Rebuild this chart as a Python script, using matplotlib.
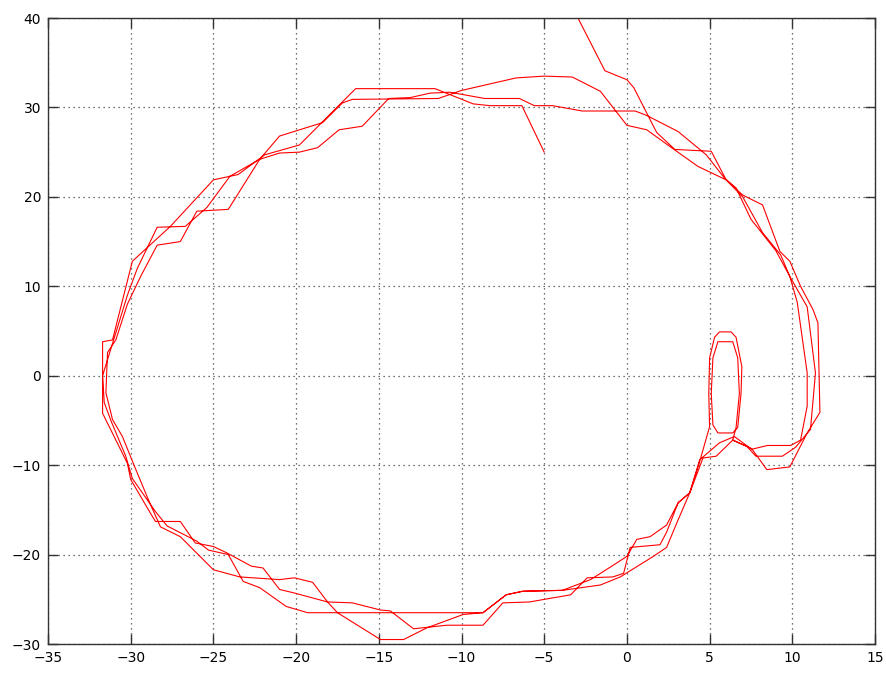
import matplotlib
matplotlib.use("Agg")
import matplotlib.pyplot as plt
import numpy as np

# Trajectory pieces (x, y), in path order
loop1 = [(-5.0, 25.0), (-6.35, 30.2), (-8.3, 30.2), (-9.3, 30.4), (-11.6, 32.1), (-16.4, 32.1),
         (-19.8, 25.8), (-21.9, 24.7), (-23.5, 22.5), (-25.0, 21.9), (-26.0, 19.9), (-27.6, 16.7),
         (-29.9, 12.8), (-31.1, 4.0), (-31.7, 3.8), (-31.7, -2.7), (-31.7, -4.2), (-30.2, -9.8),
         (-30.0, -11.6), (-28.8, -15.4), (-28.5, -16.3), (-27.0, -16.3), (-26.1, -18.7), (-25.0, -19.1),
         (-24.2, -19.8), (-22.7, -21.3), (-22.0, -21.5), (-21.0, -23.9), (-20.1, -24.3), (-18.1, -25.3),
         (-17.5, -26.5), (-14.9, -29.5), (-13.5, -29.5), (-12.1, -28.2), (-9.9, -26.7), (-8.7, -26.5),
         (-7.3, -24.5), (-6.3, -24.1), (-3.9, -24.0), (-2.2, -22.8), (-1.0, -21.4), (0.0, -20.2),
         (0.6, -18.3), (1.4, -18.0), (2.4, -16.7), (3.1, -14.2), (3.8, -13.1), (4.4, -9.6), (5.0, -5.7)]
small1 = [(4.95, -2.0), (5.0, 2.0), (5.3, 4.3), (5.6, 4.9), (6.3, 4.9), (6.6, 4.3), (6.95, 1.0),
          (6.9, -2.0), (6.7, -5.8), (6.4, -6.4), (5.5, -6.4), (5.2, -5.5), (5.1, -2.0), (5.2, 2.0),
          (5.5, 3.8), (6.4, 3.8), (6.7, 2.0), (6.8, -2.0), (6.6, -5.8), (6.4, -7.2)]
right1 = [(7.25, -7.9), (7.6, -8.2), (8.5, -7.8), (9.9, -7.8), (10.5, -7.2), (10.9, -3.4), (10.9, 0.3),
          (10.3, 8.2), (9.85, 11.1), (9.3, 13.5), (8.2, 16.0), (7.0, 20.0), (6.0, 21.9), (4.3, 23.4),
          (2.7, 25.5), (1.2, 27.5), (0.0, 28.0), (-1.6, 31.8), (-3.3, 33.4), (-5.0, 33.5), (-6.7, 33.3),
          (-10.0, 31.9), (-11.4, 31.0), (-16.6, 30.9), (-17.2, 30.5)]
loop2 = [(-18.4, 28.3), (-21.0, 26.8), (-22.2, 24.2), (-24.1, 18.6), (-26.0, 18.4), (-27.0, 15.0),
         (-28.4, 14.6), (-29.4, 11.1), (-30.2, 8.0), (-30.9, 4.0), (-31.4, 2.6), (-31.5, -1.9),
         (-31.1, -4.9), (-30.5, -6.8), (-29.8, -10.0), (-28.9, -14.0), (-28.2, -16.9), (-27.0, -18.0),
         (-25.6, -20.6), (-25.0, -21.7), (-23.4, -22.5), (-21.0, -22.8), (-20.1, -22.6), (-19.0, -23.1),
         (-18.1, -25.3), (-16.6, -25.4), (-14.9, -26.2), (-14.3, -26.3), (-12.9, -28.3), (-10.9, -27.9),
         (-8.7, -27.9), (-7.5, -25.4), (-5.9, -25.3), (-3.4, -24.5), (-2.4, -22.6), (-0.85, -22.5),
         (-0.2, -22.1), (0.2, -19.2), (2.0, -18.9), (2.4, -17.5), (3.1, -14.2), (3.8, -13.1),
         (4.6, -9.2), (5.4, -9.0), (6.4, -7.2)]
right2 = [(7.25, -7.9), (7.8, -9.0), (9.4, -9.0), (10.2, -8.0), (11.1, -6.0), (11.4, 0.3), (10.9, 7.7),
          (9.85, 11.1), (9.0, 14.0), (7.5, 17.5), (6.6, 21.0), (5.9, 22.1), (4.8, 24.7), (3.1, 27.3),
          (1.2, 29.1), (0.5, 29.6), (-2.7, 29.6), (-4.5, 30.2), (-5.6, 30.2), (-6.5, 31.0), (-8.6, 31.0),
          (-10.7, 31.7), (-11.9, 31.6), (-13.1, 31.1), (-14.4, 31.0), (-16.0, 27.9)]
loop3 = [(-17.4, 27.5), (-18.7, 25.5), (-19.8, 25.0), (-21.0, 24.9), (-22.2, 24.2), (-24.0, 22.3),
         (-25.4, 18.8), (-26.7, 16.7), (-28.4, 16.6), (-29.6, 12.0), (-30.2, 9.0), (-31.2, 3.0),
         (-31.7, 0.0), (-31.6, -3.0), (-31.2, -5.0), (-30.3, -9.0), (-29.9, -11.5), (-28.5, -15.2),
         (-27.8, -16.8), (-26.0, -18.5), (-25.3, -19.5), (-24.1, -20.0), (-23.2, -23.0), (-22.2, -23.7),
         (-20.6, -25.8), (-19.3, -26.5), (-14.9, -26.5), (-8.7, -26.5), (-7.3, -24.5), (-6.3, -24.1),
         (-3.9, -24.0), (-1.6, -23.4), (-0.4, -22.5), (1.6, -20.2), (2.4, -19.2), (3.1, -16.1),
         (3.8, -13.1), (4.4, -9.4), (5.6, -7.5), (6.5, -6.8)]
right3 = [(7.6, -8.3), (8.46, -10.5), (9.85, -10.2), (10.9, -6.4), (11.67, -4.1), (11.55, 5.9),
          (11.25, 7.4), (10.5, 10.0), (9.85, 12.8), (9.25, 13.9), (8.2, 19.1), (7.0, 20.2), (6.0, 21.9),
          (5.1, 25.1), (2.9, 25.3), (1.8, 27.2), (0.42, 32.2), (0.0, 33.1), (-1.33, 34.1), (-2.96, 40.0)]

segments = [loop1, small1, right1, loop2, right2, loop3, right3]
path = np.array([p for seg in segments for p in seg])

x_ticks = [-35, -30, -25, -20, -15, -10, -5, 0, 5, 10, 15]
y_ticks = [-30, -20, -10, 0, 10, 20, 30, 40]

fig = plt.figure(figsize=(8.87, 6.75), dpi=100)
ax = fig.add_axes([48 / 887, 31 / 675, 827 / 887, 626 / 675])
ax.plot(path[:, 0], path[:, 1], color="#ff0000", lw=0.8)

ax.set_xlim(-35, 15)
ax.set_ylim(-30, 40)
ax.set_xticks(x_ticks)
ax.set_yticks(y_ticks)
ax.grid(True, color="#444444", linestyle=(0, (1, 3)), lw=0.9)
ax.tick_params(direction="in", top=True, right=True, length=7, width=1,
               labelsize=10, pad=5, color="#333333")
for s in ax.spines.values():
    s.set_linewidth(1.0)
    s.set_color("#333333")

fig.savefig("out.png", dpi=100)
